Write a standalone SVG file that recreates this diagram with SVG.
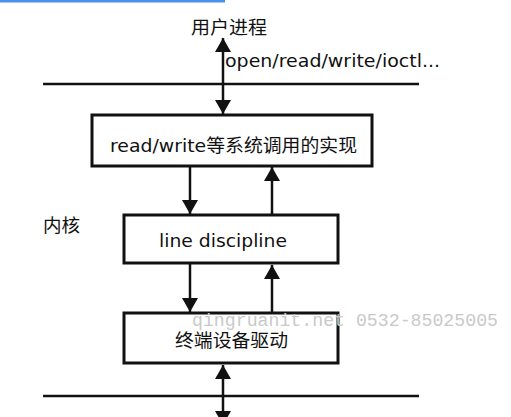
<svg xmlns="http://www.w3.org/2000/svg" width="511" height="417" viewBox="0 0 511 417">
<style>
  .t { font-family: "DejaVu Sans", "Noto Sans CJK SC", sans-serif; font-size: 18px; fill: #111; }
  .box { fill: #fff; stroke: #111; stroke-width: 3; }
  .ln { stroke: #111; stroke-width: 2.5; fill: none; }
  .wm { font-family: "Liberation Mono", monospace; font-size: 18px; fill: #c9c9c9; }
</style>
<defs>
  <marker id="ah" viewBox="0 0 14 16" refX="14" refY="8" markerWidth="14" markerHeight="16" markerUnits="userSpaceOnUse" orient="auto-start-reverse">
    <path d="M0,0 L14,8 L0,16 Z" fill="#111"/>
  </marker>
</defs>
<rect x="0" y="0" width="225" height="2.5" fill="#4a90e8"/>
<g id="labels">
  <text class="t" x="191" y="34" textLength="76" lengthAdjust="spacingAndGlyphs">用户进程</text>
  <text class="t" x="225" y="67" textLength="215" lengthAdjust="spacingAndGlyphs">open/read/write/ioctl...</text>
  <text class="t" x="43" y="232" textLength="37" lengthAdjust="spacingAndGlyphs">内核</text>
</g>
<g id="connectors">
  <line class="ln" x1="43" y1="84" x2="419" y2="84"/>
  <line class="ln" x1="43" y1="396" x2="419" y2="396"/>
  <line class="ln" x1="223" y1="38" x2="223" y2="114" marker-start="url(#ah)" marker-end="url(#ah)"/>
  <line class="ln" x1="190" y1="166" x2="190" y2="214" marker-end="url(#ah)"/>
  <line class="ln" x1="272" y1="214" x2="272" y2="167" marker-end="url(#ah)"/>
  <line class="ln" x1="190" y1="263" x2="190" y2="312" marker-end="url(#ah)"/>
  <line class="ln" x1="272" y1="313" x2="272" y2="265" marker-end="url(#ah)"/>
  <line class="ln" x1="223" y1="365" x2="223" y2="425" marker-start="url(#ah)" marker-end="url(#ah)"/>
</g>
<g id="syscall">
  <rect class="box" x="92" y="115" width="280" height="51"/>
  <text class="t" x="110" y="152" textLength="247" lengthAdjust="spacingAndGlyphs">read/write等系统调用的实现</text>
</g>
<g id="linediscipline">
  <rect class="box" x="124" y="215" width="214" height="48"/>
  <text class="t" x="159" y="247" textLength="128" lengthAdjust="spacingAndGlyphs">line discipline</text>
</g>
<g id="driver">
  <rect class="box" x="124" y="313" width="214" height="50"/>
  <text class="t" x="175" y="347" textLength="113" lengthAdjust="spacingAndGlyphs">终端设备驱动</text>
</g>
<text class="wm" x="192" y="326" textLength="306" lengthAdjust="spacingAndGlyphs">qingruanit.net 0532-85025005</text>
</svg>
